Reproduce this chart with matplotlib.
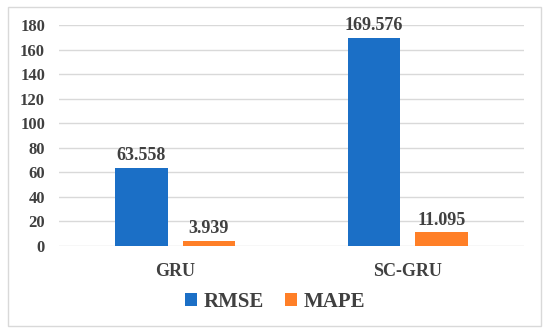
import matplotlib.pyplot as plt
import numpy as np
from matplotlib.patches import Rectangle

models = ['GRU', 'SC-GRU']
rmse = [63.558, 169.576]
mape = [3.939, 11.095]

plt.rcParams['font.family'] = ['Liberation Serif', 'DejaVu Serif']
plt.rcParams['font.weight'] = 'bold'
txt = '#404040'

fig = plt.figure(figsize=(5.5, 3.33), dpi=100)
ax = fig.add_axes([59/550, 1 - 246/333, (524-59)/550, (246-25)/333])

x = np.arange(len(models))
w = 0.224
b1 = ax.bar(x - 0.145, rmse, w, color='#1B6FC6', label='RMSE', zorder=3)
b2 = ax.bar(x + 0.145, mape, w, color='#FF7F27', label='MAPE', zorder=3)

for bars, vals in [(b1, rmse), (b2, mape)]:
    for r, v in zip(bars, vals):
        ax.text(r.get_x() + r.get_width()/2, v + 3, f'{v:.3f}', ha='center', va='bottom',
                fontsize=13, fontweight='bold', color=txt)

ax.set_xlim(-0.5, 1.5)
ax.set_ylim(0, 180)
ax.set_yticks(range(0, 181, 20))
ax.set_xticks(x)
ax.set_xticklabels(models, fontsize=13, fontweight='bold')
ax.grid(axis='y', color='#d9d9d9', linewidth=1, zorder=0)
for s in ax.spines.values():
    s.set_visible(False)
ax.tick_params(axis='y', length=0, labelsize=12, colors=txt, pad=10)
ax.tick_params(axis='x', length=0, colors=txt, pad=12)

leg = fig.legend(loc='center', bbox_to_anchor=(275/550, 1 - 302/333), ncol=2, frameon=False,
                 fontsize=15, handlelength=0.6, handleheight=0.6, columnspacing=1.0,
                 handletextpad=0.3)
for t in leg.get_texts():
    t.set_fontweight('bold')
    t.set_color(txt)

fig.add_artist(Rectangle((8/550, 1 - 326/333), (541-8)/550, (326-7)/333, transform=fig.transFigure,
                         fill=False, edgecolor='#d9d9d9', linewidth=1))

plt.savefig('out.png', dpi=100)
